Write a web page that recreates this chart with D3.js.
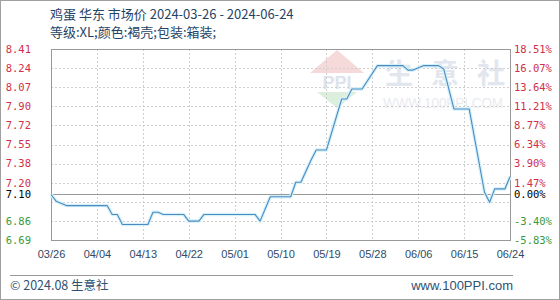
<!DOCTYPE html>
<html><head><meta charset="utf-8">
<script src="https://cdn.jsdelivr.net/npm/d3@7"></script>
<style>
html,body{margin:0;padding:0;background:#fff;}
svg{display:block;}
</style></head>
<body>
<svg id="chart" width="560" height="300"></svg>
<script>
// ---- data ----
const dates = ["2024-03-26","2024-03-27","2024-03-29","2024-04-06","2024-04-07","2024-04-08","2024-04-09","2024-04-14","2024-04-15","2024-04-16","2024-04-17","2024-04-21","2024-04-22","2024-04-24","2024-04-25","2024-05-05","2024-05-06","2024-05-08","2024-05-12","2024-05-13","2024-05-14","2024-05-16","2024-05-17","2024-05-19","2024-05-22","2024-05-23","2024-05-24","2024-05-26","2024-05-29","2024-06-03","2024-06-04","2024-06-05","2024-06-07","2024-06-10","2024-06-11","2024-06-13","2024-06-16","2024-06-19","2024-06-20","2024-06-21","2024-06-23","2024-06-24"];
const prices = [7.10,7.04,7.00,7.00,6.92,6.92,6.83,6.83,6.94,6.94,6.92,6.92,6.86,6.86,6.92,6.92,6.86,7.08,7.08,7.21,7.21,7.41,7.50,7.50,7.96,7.96,8.05,8.05,8.26,8.26,8.22,8.22,8.26,8.26,8.23,7.87,7.87,7.12,7.03,7.15,7.15,7.26];
const xTickLabels = ["03/26","04/04","04/13","04/22","05/01","05/10","05/19","05/28","06/06","06/15","06/24"];
const xTickDates = ["2024-03-26","2024-04-04","2024-04-13","2024-04-22","2024-05-01","2024-05-10","2024-05-19","2024-05-28","2024-06-06","2024-06-15","2024-06-24"];
const yTickValues = [8.41,8.238,8.066,7.894,7.722,7.55,7.378,7.206,7.034,6.862,6.69];
const yLeftLabels = ["8.41","8.24","8.07","7.90","7.72","7.55","7.38","7.20","","6.86","6.69"];
const yRightLabels = ["18.51%","16.07%","13.64%","11.21%","8.77%","6.34%","3.90%","1.47%","","-3.40%","-5.83%"];
const baseValue = 7.10;
const baseLeftLabel = "7.10";
const baseRightLabel = "0.00%";
const title1 = "鸡蛋 华东 市场价 2024-03-26 - 2024-06-24";
const title2 = "等级:XL;颜色:褐壳;包装:箱装;";
const footerLeft = "© 2024.08 生意社";
const footerRight = "www.100PPI.com";
const watermarkChars = ["生","意","社"];

// ---- layout ----
const svg = d3.select("#chart");
const L = 51, R = 510, T = 49, B = 240;
const parse = d3.timeParse("%Y-%m-%d");
const x = d3.scaleTime().domain([parse("2024-03-26"), parse("2024-06-24")]).range([L, R]);
const y = d3.scaleLinear().domain([6.69, 8.41]).range([B, T]);
const mono = "'DejaVu Sans Mono', 'Liberation Mono', monospace";
const sans = "'Noto Sans CJK SC', 'Liberation Sans', sans-serif";

// outer frame
svg.append("rect").attr("x",0.5).attr("y",0.5).attr("width",559).attr("height",299)
  .attr("fill","#fff").attr("stroke","#a0a0a0");

// watermark
const wm = svg.append("g");
wm.append("path").attr("d","M337,50 L364,73 L310,73 Z").attr("fill","#f6dada");
wm.append("text").attr("x",337).attr("y",89).attr("text-anchor","middle")
  .attr("font-family","'Liberation Sans',sans-serif").attr("font-weight","bold").attr("font-size",18)
  .attr("fill","#dde3ec").text("PPI");
wm.append("path").attr("d","M317,92 L357,92 L337,108 Z").attr("fill","#dcefdc");
wm.selectAll("text.wc").data(watermarkChars).join("text").attr("class","wc")
  .attr("x",(d,i)=>385+i*46).attr("y",84).attr("font-family",sans).attr("font-size",28)
  .attr("font-weight","bold").attr("fill","#e2e6ee").text(d=>d);
wm.append("text").attr("x",383).attr("y",108).attr("font-family","'Liberation Sans',sans-serif").attr("font-size",14)
  .attr("fill","#e8ebf0").attr("textLength",120).attr("lengthAdjust","spacingAndGlyphs").text("WWW.100PPI.COM");

// grid
const grid = svg.append("g");
grid.selectAll("line.h").data(yTickValues).join("line")
  .attr("x1",L).attr("x2",R).attr("y1",d=>Math.round(y(d))+0.5).attr("y2",d=>Math.round(y(d))+0.5)
  .attr("stroke","#cfcfcf").attr("stroke-dasharray","2,2");
grid.selectAll("line.v").data(xTickDates).join("line")
  .attr("y1",T).attr("y2",B).attr("x1",d=>Math.round(x(parse(d)))+0.5).attr("x2",d=>Math.round(x(parse(d)))+0.5)
  .attr("stroke","#cfcfcf").attr("stroke-dasharray","2,2");

// base line
svg.append("line").attr("x1",L).attr("x2",R).attr("y1",Math.round(y(baseValue))+0.5).attr("y2",Math.round(y(baseValue))+0.5)
  .attr("stroke","#999");

// plot frame
svg.append("rect").attr("x",L+0.5).attr("y",T+0.5).attr("width",R-L).attr("height",B-T)
  .attr("fill","none").attr("stroke","#999");

// line
const pts = dates.map((d,i)=>({d:parse(d), v:prices[i]}));
const lineGen = d3.line().x(p=>x(p.d)).y(p=>y(p.v));
svg.append("path").datum(pts).attr("d",lineGen).attr("fill","none")
  .attr("stroke","#d6f0fa").attr("stroke-width",3.5).attr("stroke-linejoin","round");
svg.append("path").datum(pts).attr("d",lineGen).attr("fill","none")
  .attr("stroke","#4a8cbf").attr("stroke-width",1.1).attr("stroke-linejoin","round");

// axes
function colorFor(v){ return v > baseValue ? "#d0304a" : (v < baseValue ? "#3a9a3a" : "#000"); }
const leftAxis = d3.axisLeft(y).tickValues(yTickValues.concat([baseValue]))
  .tickFormat((d,i)=> i < yLeftLabels.length ? yLeftLabels[i] : baseLeftLabel).tickSize(0).tickPadding(0);
const gl = svg.append("g").attr("transform","translate(31,0)").call(leftAxis);
gl.select(".domain").remove();
gl.selectAll("text").attr("font-family",mono).attr("font-size",10.5).attr("fill",d=>colorFor(d));

const rightAxis = d3.axisRight(y).tickValues(yTickValues.concat([baseValue]))
  .tickFormat((d,i)=> i < yRightLabels.length ? yRightLabels[i] : baseRightLabel).tickSize(0).tickPadding(0);
const gr = svg.append("g").attr("transform","translate(514,0)").call(rightAxis);
gr.select(".domain").remove();
gr.selectAll("text").attr("font-family",mono).attr("font-size",10.5).attr("fill",d=>colorFor(d));

const bottomAxis = d3.axisBottom(x).tickValues(xTickDates.map(parse))
  .tickFormat((d,i)=>xTickLabels[i]).tickSize(0).tickPadding(0);
const gb = svg.append("g").attr("transform","translate(0,250)").call(bottomAxis);
gb.select(".domain").remove();
gb.selectAll("text").attr("font-family","'Liberation Sans', sans-serif").attr("font-size",11).attr("fill","#2f4a66");

// titles
svg.append("text").attr("x",50).attr("y",19).attr("font-family",sans).attr("font-size",13)
  .attr("fill","#1f4466").text(title1);
svg.append("text").attr("x",50).attr("y",37).attr("font-family",sans).attr("font-size",13)
  .attr("fill","#1f4466").text(title2);

// footer
svg.append("line").attr("x1",10).attr("x2",513).attr("y1",275.5).attr("y2",275.5).attr("stroke","#999");
svg.append("text").attr("x",10).attr("y",290).attr("font-family",sans).attr("font-size",12.5)
  .attr("fill","#2f5270").text(footerLeft);
svg.append("text").attr("x",513).attr("y",290).attr("text-anchor","end").attr("font-family","'Liberation Sans',sans-serif").attr("font-size",13)
  .attr("fill","#2f5270").text(footerRight);
</script>
</body></html>
